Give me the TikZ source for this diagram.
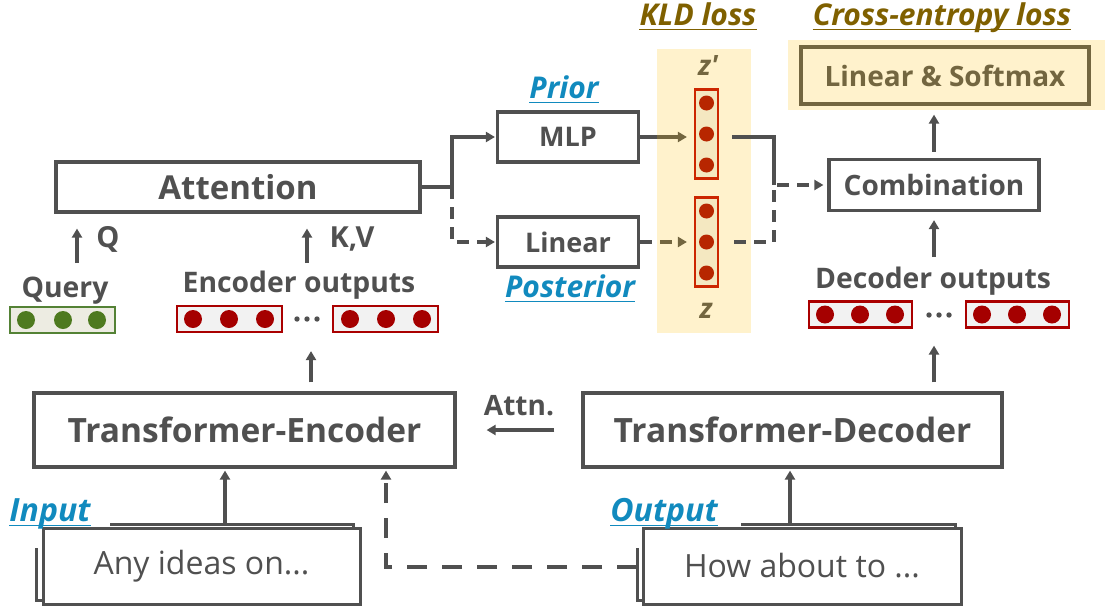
\documentclass[tikz,border=0pt]{standalone}
\usepackage{fontspec}
\setmainfont{Open Sans}
\usetikzlibrary{arrows.meta}
\definecolor{ink}{RGB}{80,80,80}
\definecolor{capblue}{RGB}{17,138,190}
\definecolor{lossbrown}{RGB}{127,96,0}
\definecolor{gold}{RGB}{255,192,0}
\definecolor{leaf}{RGB}{84,130,53}
\definecolor{leafdot}{RGB}{78,122,31}
\definecolor{leaffill}{RGB}{237,236,226}
\definecolor{wine}{RGB}{170,0,0}
\definecolor{winedot}{RGB}{165,0,0}
\definecolor{winefill}{RGB}{242,242,242}
\definecolor{vred}{RGB}{192,0,0}
\newcommand{\sz}[1]{\fontsize{#1}{#1}\selectfont}
\begin{document}
\begin{tikzpicture}[x=1pt, y=-1pt,
  line/.style={draw=ink, line width=3.2pt},
  arr/.style={line, -{Triangle[length=9pt,width=10pt]}},
  dsh/.style={dash pattern=on 12pt off 8pt},
  longdsh/.style={line width=4pt, dash pattern=on 20pt off 15pt},
  blk/.style={draw=ink, line width=3.2pt, fill=white, text=ink, inner sep=0pt, font=\bfseries},
  doc/.style={draw=ink, line width=3pt, fill=white, text=ink, inner sep=0pt, minimum height=76pt},
  lbl/.style={text=ink, inner sep=0pt, anchor=base, font=\bfseries},
  tag/.style={text=capblue, inner sep=0pt, anchor=base, font={\bfseries\itshape\sz{30}}},
  losstag/.style={text=lossbrown, inner sep=0pt, anchor=base, font={\bfseries\itshape\sz{30}}},
  hvec/.style={line width=2.2pt, minimum width=105pt, minimum height=26pt, inner sep=0pt},
  vvec/.style={draw=vred, fill=winefill, line width=2.2pt, minimum width=23pt, minimum height=89pt, inner sep=0pt},
  band/.style={fill=gold, fill opacity=0.2},
]
\useasboundingbox (0,0) rectangle (1105,608);

% ---------- encoder / decoder ----------
\node[blk, minimum width=421pt, minimum height=74pt, font={\bfseries\sz{33.5}}] (enc) at (244.5,430) {Transformer-Encoder};
\node[blk, minimum width=419pt, minimum height=74pt, font={\bfseries\sz{33.5}}] (dec) at (792.5,430) {Transformer-Decoder};
\node[lbl, font={\bfseries\sz{28}}] (attn) at (519,415) {Attn.};

% ---------- stacked input / output sheets ----------
\draw[ink, line width=3pt] (36,548) -- (36,600) -- (353,600) -- (353,524) -- (110,524);
\node[doc, minimum width=317pt, font=\sz{32}] (inb) at (201.5,566) {Any ideas on...};
\draw[ink, line width=3pt] (637,548) -- (637,600) -- (955,600) -- (955,524) -- (741,524);
\node[doc, minimum width=318pt, font=\sz{32}] (outb) at (802,566) {How about to ...};
\node[tag, font={\bfseries\itshape\sz{32}}] (inp) at (50,521) {Input};
\node[tag, font={\bfseries\itshape\sz{32}}] (outp) at (664,521) {Output};

% ---------- attention block ----------
\node[blk, minimum width=364pt, minimum height=50pt, font={\bfseries\sz{33}}] (att) at (238,187) {Attention};
\node[lbl, font={\bfseries\sz{29}}] (qlab) at (108,247) {Q};
\node[lbl, font={\bfseries\sz{29}}] (kvlab) at (352,247) {K,V};
\node[lbl, font={\bfseries\sz{28.3}}] (query) at (65,297) {Query};
\node[lbl, font={\bfseries\sz{28.3}}] (encout) at (299,292) {Encoder outputs};

% query vector
\node[hvec, draw=leaf, fill=leaffill] (qv) at (62.5,320) {};
\foreach \x in {26,63,97} \fill[leafdot] (\x,320) circle[radius=9pt];
% encoder output vectors
\node[hvec, draw=wine, fill=winefill] (ev1) at (229.5,319) {};
\node[hvec, draw=wine, fill=winefill] (ev2) at (385.5,319) {};
\foreach \x in {193,229,265,350,386,422} \fill[winedot] (\x,319) circle[radius=9pt];
\foreach \x in {297,307,317} \fill[ink] (\x,319) circle[radius=2.7pt];

% ---------- decoder side ----------
\node[lbl, font={\bfseries\sz{28.3}}] (decout) at (933,288) {Decoder outputs};
\node[hvec, draw=wine, fill=winefill, minimum width=103pt] (dv1) at (860.5,314.5) {};
\node[hvec, draw=wine, fill=winefill, minimum width=103pt] (dv2) at (1017.5,314.5) {};
\foreach \x in {825,860,895,982,1017,1052} \fill[winedot] (\x,314.5) circle[radius=9pt];
\foreach \x in {929,939,949} \fill[ink] (\x,315) circle[radius=2.7pt];

\node[blk, minimum width=210pt, minimum height=51pt, font={\bfseries\sz{28}}] (comb) at (934,185) {Combination};
\node[blk, minimum width=288pt, minimum height=57pt, font={\bfseries\sz{28}}] (ls) at (945,75.5) {Linear \& Softmax};

% ---------- prior / posterior ----------
\node[blk, minimum width=141pt, minimum height=50pt, font={\bfseries\sz{27}}] (mlp) at (568,137) {MLP};
\node[blk, minimum width=141pt, minimum height=50pt, font={\bfseries\sz{27}}] (lin) at (568,242) {Linear};
\node[tag] (prior) at (564,98) {Prior};
\node[tag] (post) at (570,297) {Posterior};

% latent vectors
\node[vvec] (zp) at (706.5,134) {};
\node[vvec] (zz) at (706.5,242) {};
\foreach \y in {103,134,165,211,242,273} \fill[winedot] (706.5,\y) circle[radius=7.5pt];
\node[lbl, font={\bfseries\itshape\sz{28}}] (zplab) at (708,75) {z′};
\node[lbl, font={\bfseries\itshape\sz{28}}] (zlab) at (706,318) {z};

% ---------- connectors ----------
\coordinate (qtail) at (77,263);
\coordinate (kvtail) at (307,263);
\coordinate (eup) at (311,0);
\coordinate (dup) at (934,0);
\coordinate (ctail) at (934,257);
\coordinate (itail) at (225,524);
\coordinate (otail) at (790,524);
\coordinate (dtail) at (637,567);
\coordinate (dx) at (386,0);
\coordinate (fork) at (452,187);
\coordinate (join) at (774,185);

\draw[arr, shorten >=15pt] (qtail) -- (qtail |- att.south);
\draw[arr, shorten >=15pt] (kvtail) -- (kvtail |- att.south);
\draw[arr, shorten <=9pt, shorten >=18pt] (enc.north -| eup) -- (ev1.south -| eup);
\draw[arr, shorten <=9pt, shorten >=17pt] (dec.north -| dup) -- (dv1.south -| dup);
\draw[arr, shorten >=8pt] (ctail) -- (comb.south);
\draw[arr, shorten <=6pt, shorten >=9pt] (comb.north) -- (comb.north |- ls.south);
\draw[arr, shorten <=27pt, shorten >=30pt] (dec.west) -- (enc.east);
\draw[arr, shorten >=2pt] (itail) -- (itail |- enc.south);
\draw[arr, shorten >=2pt] (otail) -- (otail |- enc.south);
\draw[arr, longdsh, shorten >=2pt] (dtail) -| (dx |- enc.south);

\draw[arr, shorten >=1pt] (att.east) -- (fork) |- (mlp.west);
\draw[arr, dsh, shorten >=1pt] (fork) |- (lin.west);
\draw[arr, shorten >=7pt] (mlp.east) -- (mlp.east -| zp.west);
\draw[arr, dsh, shorten >=7pt] (lin.east) -- (zz.west);

% ---------- highlighted regions ----------
\fill[band] (657,49) rectangle (751,333);
\fill[band] (788,40) rectangle (1105,110);
\node[losstag] (kld) at (698,25) {KLD loss};
\node[losstag] (ce) at (942,25) {Cross-entropy loss};

% latent outputs merged into the combination step
\draw[line, shorten <=13pt] (zp.east |- mlp.east) -| (join);
\draw[arr, dsh, shorten <=15pt, shorten >=4pt] (zz.east) -| (join) -- (comb.west);

% underlines of the captions
\foreach \n/\col in {inp/capblue, outp/capblue, prior/capblue, post/capblue, kld/lossbrown, ce/lossbrown}
  \draw[draw=\col, line width=1.6pt] ([yshift=-4.5pt]\n.base west) -- ([yshift=-4.5pt]\n.base east);
\end{tikzpicture}
\end{document}
